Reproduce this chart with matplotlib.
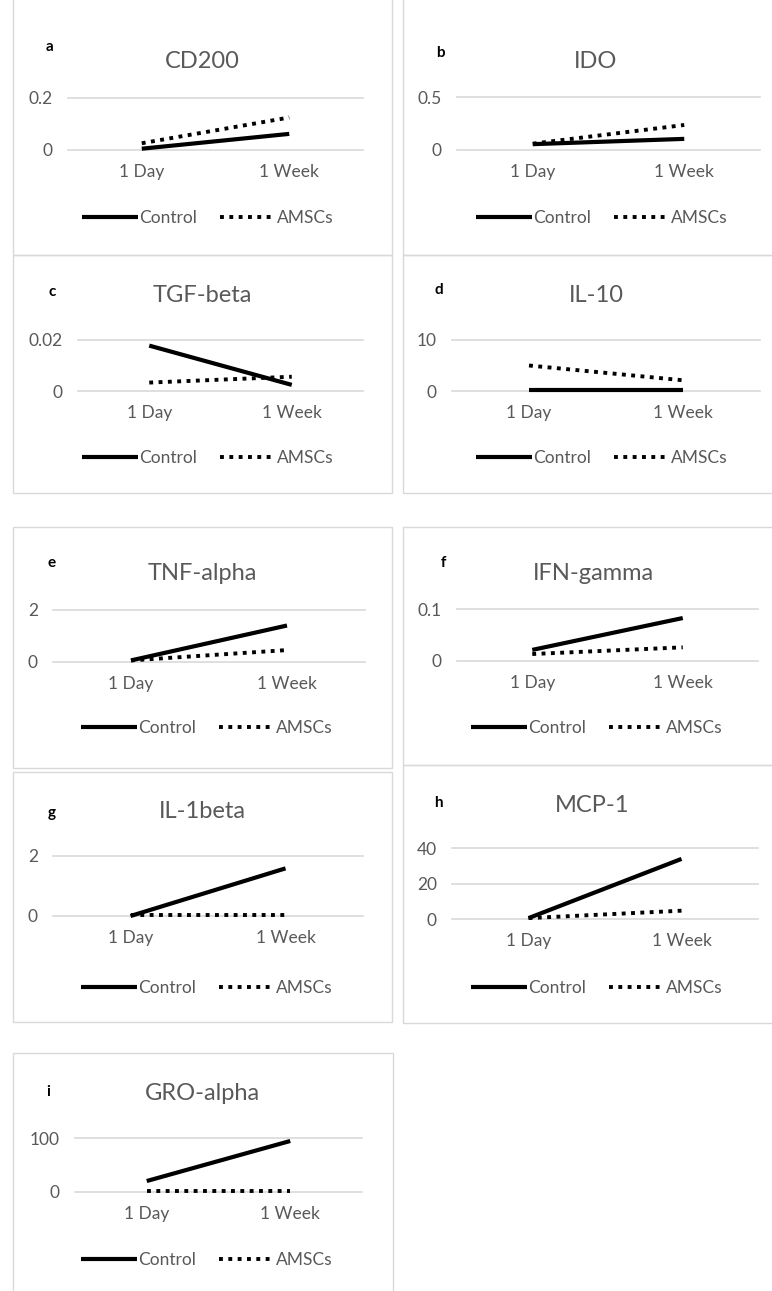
import matplotlib.pyplot as plt
from matplotlib.patches import Rectangle

# data
panel_letters = ['a', 'b', 'c', 'd', 'e', 'f', 'g', 'h', 'i']
panel_titles = ['CD200', 'IDO', 'TGF-beta', 'IL-10', 'TNF-alpha',
                'IFN-gamma', 'IL-1beta', 'MCP-1', 'GRO-alpha']
time_points = ['1 Day', '1 Week']
control_values = [[0.005, 0.062], [0.055, 0.105], [0.0178, 0.0024], [0.2, 0.2],
                  [0.05, 1.4], [0.021, 0.083], [0.0, 1.58], [0.5, 34.0], [20.0, 95.0]]
amsc_values = [[0.026, 0.125], [0.06, 0.236], [0.0033, 0.0056], [5.0, 2.1],
               [0.05, 0.45], [0.013, 0.026], [0.03, 0.03], [0.5, 4.7], [2.0, 2.0]]
y_ticks = [[0, 0.2], [0, 0.5], [0, 0.02], [0, 10], [0, 2], [0, 0.1], [0, 2], [0, 20, 40], [0, 100]]

# layout in pixels: panel box (left, top, right, bottom), plot area (x0, x1, ytop, y0),
# title centre, letter position, legend centre
boxes = [(13, -2, 392, 255), (403, -2, 773, 255), (13, 255, 392, 493), (403, 255, 773, 493),
         (13, 527, 392, 768), (403, 527, 773, 765), (13, 772, 392, 1022), (403, 765, 773, 1023),
         (13, 1053, 393, 1295)]
plots = [(68, 363, 98, 150), (457, 760, 97, 150), (78, 363, 340, 391), (452, 760, 340, 391),
         (53, 365, 610, 661.7), (457, 758, 609.3, 660.7), (53, 363, 855.7, 916),
         (452, 758, 848.3, 919), (75, 362, 1138.3, 1191.7)]
title_pos = [(202, 62), (596, 62), (202, 295), (596, 295), (202, 573), (593, 573),
             (202, 812), (592, 805), (202, 1093)]
letter_pos = [(50, 47), (440, 53), (52, 292), (439, 290), (52, 563), (443, 563),
              (52, 813), (438, 803), (48, 1092)]
legend_pos = [(208, 218), (602, 218), (208, 458), (602, 458), (207, 728), (597, 728),
              (207, 988), (597, 988), (207, 1260)]

W, H = 772, 1291
gray = '#595959'
grid = '#d9d9d9'
dots = (0, (1, 1.4))

plt.rcParams['font.family'] = ['Lato', 'DejaVu Sans']
fig = plt.figure(figsize=(W / 100, H / 100), dpi=100)

for k in range(9):
    l, t, r, b = boxes[k]
    fig.add_artist(Rectangle((l / W, 1 - b / H), (r - l) / W, (b - t) / H,
                             transform=fig.transFigure, fill=False, ec=grid, lw=1))
    x0, x1, ytop, y0 = plots[k]
    ax = fig.add_axes([x0 / W, 1 - y0 / H, (x1 - x0) / W, (y0 - ytop) / H])
    ax.patch.set_alpha(0)
    ax.plot([0, 1], control_values[k], color='black', lw=3, solid_capstyle='butt',
            clip_on=False, label='Control')
    ax.plot([0, 1], amsc_values[k], color='black', lw=2.8, ls=dots,
            clip_on=False, label='AMSCs')
    ax.set_xlim(-0.5, 1.5)
    ax.set_ylim(0, y_ticks[k][-1])
    ax.set_yticks(y_ticks[k])
    ax.set_yticklabels([f'{v:g}' for v in y_ticks[k]])
    ax.set_xticks([0, 1])
    ax.set_xticklabels(time_points)
    for v in y_ticks[k]:
        ax.axhline(v, color=grid, lw=1.2, zorder=0, clip_on=False)
    for s in ax.spines.values():
        s.set_visible(False)
    ax.tick_params(length=0, colors=gray, labelsize=12.5)
    ax.tick_params(axis='y', pad=11)
    ax.tick_params(axis='x', pad=10)
    ax.legend(loc='center', bbox_to_anchor=(legend_pos[k][0] / W, 1 - legend_pos[k][1] / H),
              bbox_transform=fig.transFigure, ncol=2, frameon=False, handlelength=3.2,
              handletextpad=0.1, columnspacing=1.3, fontsize=12.5, labelcolor=gray)
    fig.text(title_pos[k][0] / W, 1 - title_pos[k][1] / H, panel_titles[k],
             ha='center', va='center', size=17, color=gray)
    fig.text(letter_pos[k][0] / W, 1 - letter_pos[k][1] / H, panel_letters[k],
             ha='center', va='center', size=11, weight='bold', color='black')

fig.savefig('out.png', dpi=100)
